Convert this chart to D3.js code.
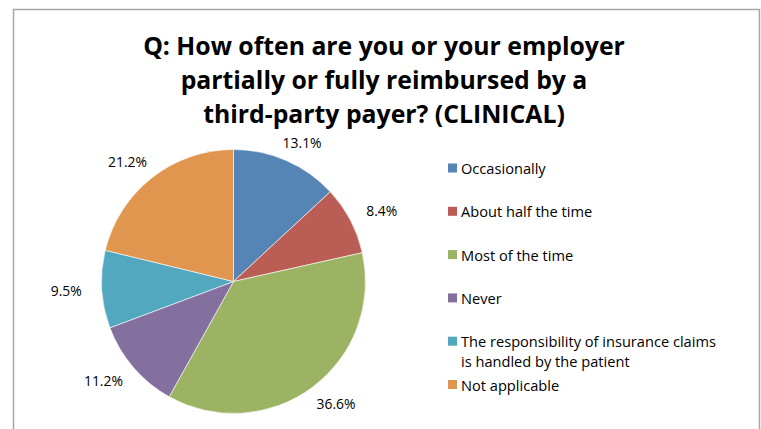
<!DOCTYPE html>
<html>
<head>
<meta charset="utf-8">
<script src="https://cdn.jsdelivr.net/npm/d3@7/dist/d3.min.js"></script>
<style>
  html, body { margin: 0; padding: 0; background: #fff; }
  svg { display: block; }
</style>
</head>
<body>
<svg id="chart" width="761" height="429"></svg>
<script>
// Survey responses (percent of respondents)
const categories = [
  "Occasionally",
  "About half the time",
  "Most of the time",
  "Never",
  "The responsibility of insurance claims\nis handled by the patient",
  "Not applicable"
];
const values = [13.1, 8.4, 36.6, 11.2, 9.5, 21.2];
const colors = ["#5585B5", "#BA5D55", "#9BB362", "#84709E", "#51A8BF", "#E0964F"];
const titleLines = [
  "Q: How often are you or your employer",
  "partially or fully reimbursed by a",
  "third-party payer? (CLINICAL)"
];

const svg = d3.select("#chart");
const FONT = "'Open Sans', Lato, sans-serif";

// size a font so that a reference string occupies the given width
function fitSize(text, weight, width) {
  const t = svg.append("text")
    .attr("font-family", FONT).attr("font-weight", weight)
    .attr("font-size", 100).text(text);
  const w = t.node().getComputedTextLength();
  t.remove();
  return 100 * width / w;
}
const titleSize = fitSize(titleLines[0], "bold", 482);
const legendSize = fitSize("The responsibility of insurance claims", "normal", 255);
const labelSize = fitSize("13.1%", "normal", 39);

// chart frame
svg.append("rect")
  .attr("x", 13.5).attr("y", 9.5)
  .attr("width", 746).attr("height", 440)
  .attr("fill", "#fff")
  .attr("stroke", "#a6a6a6")
  .attr("stroke-width", 1.5);

// title, one text element per line
const titleLH = Math.ceil(titleSize * 1.37);
svg.append("g")
  .attr("font-family", FONT)
  .attr("font-weight", "bold")
  .attr("font-size", titleSize)
  .attr("fill", "#000")
  .attr("text-anchor", "middle")
  .selectAll("text")
  .data(titleLines)
  .join("text")
  .attr("x", 384)
  .attr("y", (d, i) => 55 + i * titleLH)
  .text(d => d);

// pie
const cx = 233.5, cy = 281.5, r = 132;
const pie = d3.pie().sort(null).value(d => d.value);
const arcs = pie(values.map((v, i) => ({ value: v, name: categories[i], color: colors[i] })));
const arc = d3.arc().innerRadius(0).outerRadius(r);

const g = svg.append("g").attr("transform", `translate(${cx},${cy})`);
g.selectAll("path")
  .data(arcs)
  .join("path")
  .attr("d", arc)
  .attr("fill", d => d.data.color)
  .attr("stroke", "#fff")
  .attr("stroke-width", 0.6);

// value labels placed just outside each slice
const labelR = r + 20;
g.selectAll("text.val")
  .data(arcs)
  .join("text")
  .attr("class", "val")
  .attr("font-family", FONT)
  .attr("font-size", labelSize)
  .attr("fill", "#000")
  .attr("text-anchor", "middle")
  .attr("dominant-baseline", "central")
  .text(d => d.data.value.toFixed(1) + "%")
  .each(function (d) {
    const a = (d.startAngle + d.endAngle) / 2;
    const w = this.getComputedTextLength();
    const x = labelR * Math.sin(a) + (w / 2) * Math.sin(a);
    const y = -labelR * Math.cos(a);
    d3.select(this).attr("x", x).attr("y", y);
  });

// legend
const legend = svg.append("g").attr("transform", "translate(448,169)");
const item = legend.selectAll("g")
  .data(arcs)
  .join("g")
  .attr("transform", (d, i) => `translate(0,${i * 43.3})`);
item.append("rect")
  .attr("x", 0).attr("y", -5.5)
  .attr("width", 9).attr("height", 9)
  .attr("fill", d => d.data.color);
item.append("text")
  .attr("font-family", FONT)
  .attr("font-size", legendSize)
  .attr("fill", "#000")
  .selectAll("tspan")
  .data(d => d.data.name.split("\n"))
  .join("tspan")
  .attr("x", 13)
  .attr("y", (d, i) => 5 + i * 19.5)
  .text(d => d);
</script>
</body>
</html>
